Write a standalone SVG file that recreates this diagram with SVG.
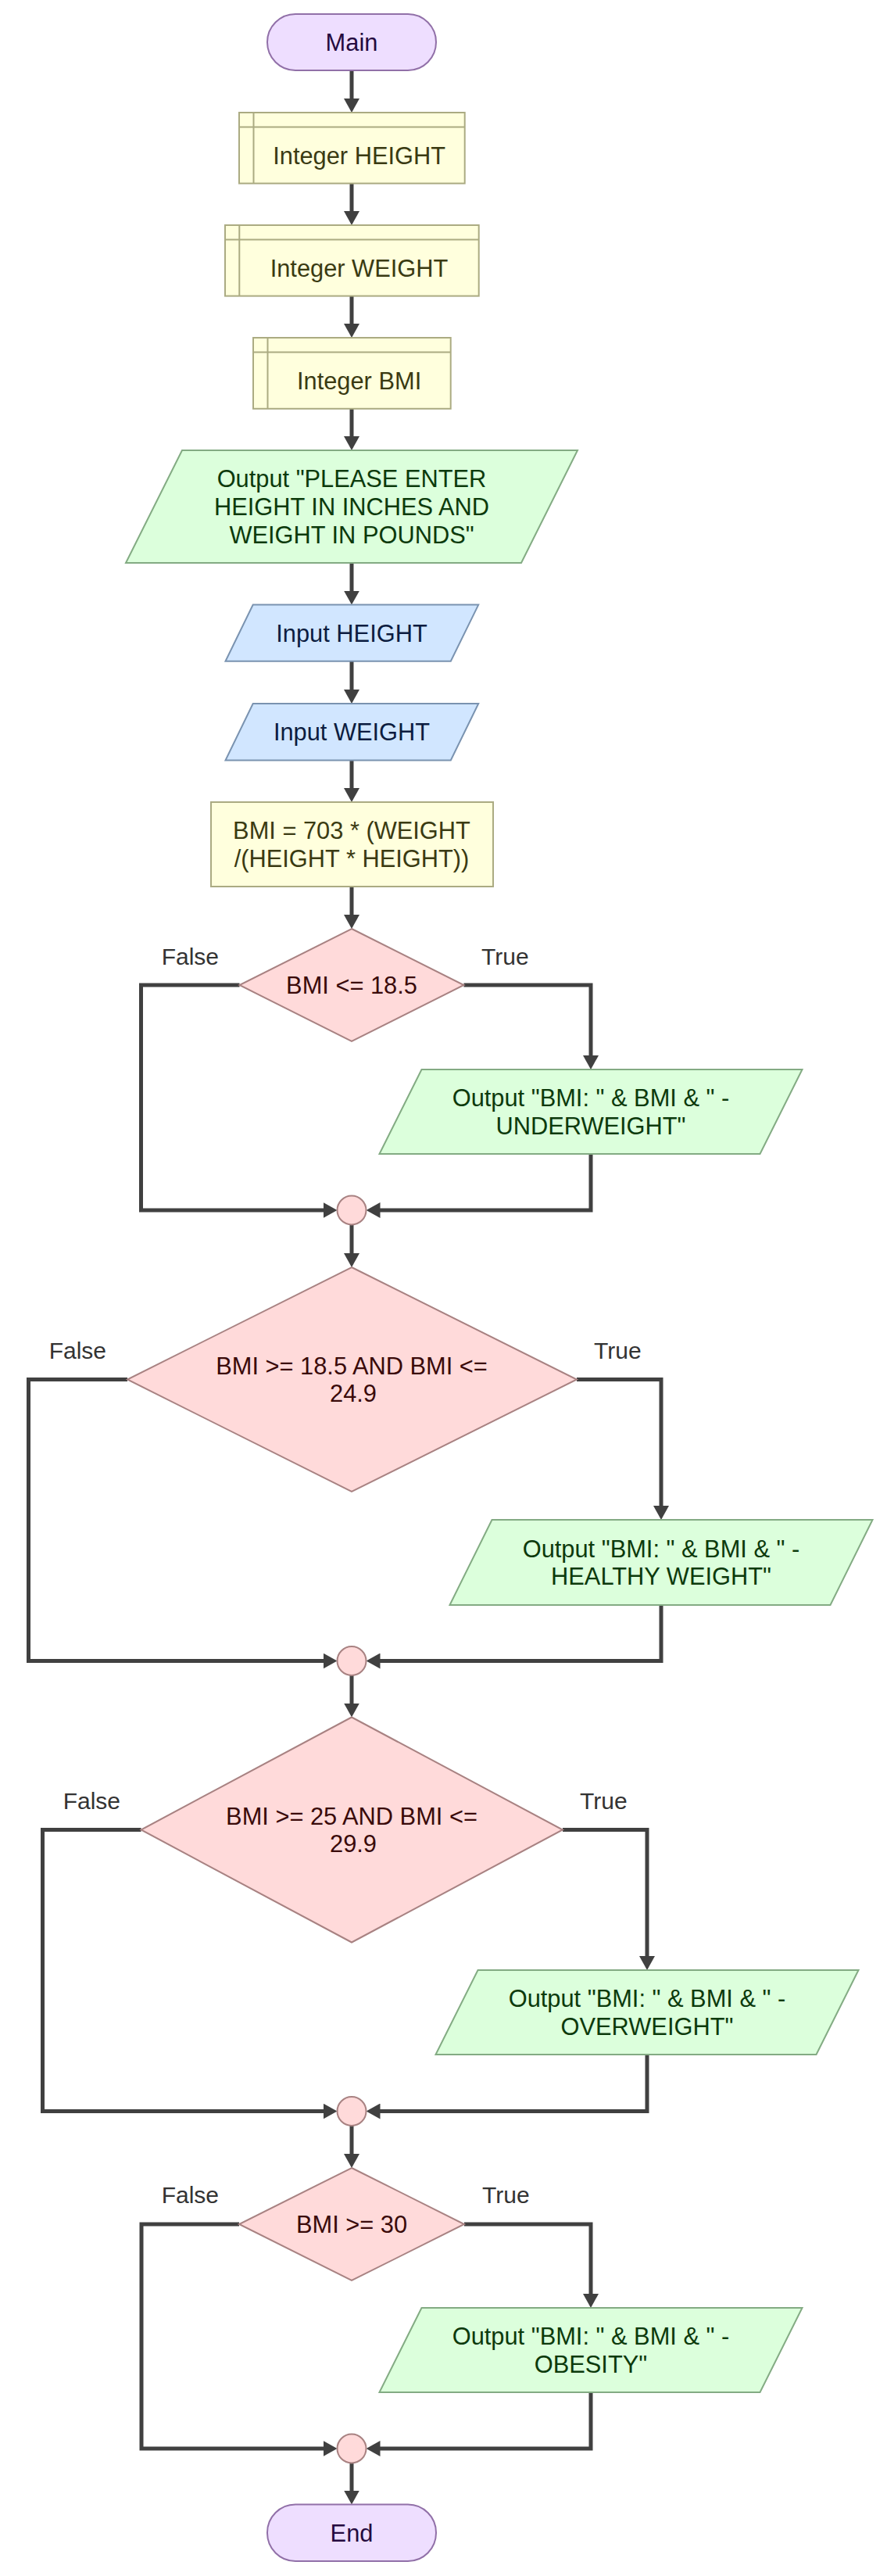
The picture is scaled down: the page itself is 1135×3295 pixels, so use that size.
<svg xmlns="http://www.w3.org/2000/svg" width="1135" height="3295" viewBox="0 0 1135 3295">
<defs>
<style>
text{font-family:"Liberation Sans",Arial,sans-serif;font-size:30.8px;text-anchor:middle}
.term{fill:#eedeff;stroke:#9170a8;stroke-width:2}
.term-t{fill:#250a40}
.decl{fill:#ffffdd;stroke:#abab82;stroke-width:2}
.decl-t{fill:#3a3a12}
.out{fill:#dcffdc;stroke:#83ab83;stroke-width:2}
.out-t{fill:#0c3a0c}
.inp{fill:#d1e6ff;stroke:#7a93b0;stroke-width:2}
.inp-t{fill:#0c1c40}
.dec{fill:#ffdada;stroke:#a88282;stroke-width:2}
.dec-t{fill:#3a0a0a}
.lbl{fill:#333333;font-size:30px}
.lblf{text-anchor:end}
.lblt{text-anchor:start}
.conn{fill:none;stroke:#404040;stroke-width:5;marker-end:url(#arr)}
</style>
<marker id="arr" markerUnits="userSpaceOnUse" markerWidth="18" markerHeight="20" refX="12" refY="10" orient="auto">
<path d="M0,0 L18,10 L0,20 Z" fill="#404040"/>
</marker>
</defs>
<rect width="1135" height="3295" fill="#ffffff"/>

<g id="connectors">
<path class="conn" d="M450,90 V138"/>
<path class="conn" d="M450,234.6 V282"/>
<path class="conn" d="M450,378.6 V426"/>
<path class="conn" d="M450,523 V570"/>
<path class="conn" d="M450,720 V767.6"/>
<path class="conn" d="M450,845.7 V894"/>
<path class="conn" d="M450,972.5 V1020"/>
<path class="conn" d="M450,1134 V1182"/>
<path class="conn" d="M593.5,1260 H756 V1362"/>
<path class="conn" d="M306.5,1260 H180.5 V1548 H425.5"/>
<path class="conn" d="M756,1476 V1548 H474.5"/>
<path class="conn" d="M450,1566.5 V1615"/>
<path class="conn" d="M738,1764.5 H846 V1938"/>
<path class="conn" d="M163,1764.5 H36.5 V2124.5 H425.5"/>
<path class="conn" d="M846,2053 V2124.5 H474.5"/>
<path class="conn" d="M450,2143 V2190.5"/>
<path class="conn" d="M720,2340.5 H828 V2514"/>
<path class="conn" d="M180.5,2340.5 H54.5 V2700.5 H425.5"/>
<path class="conn" d="M828,2628 V2700.5 H474.5"/>
<path class="conn" d="M450,2719 V2767"/>
<path class="conn" d="M594,2845 H756 V2946"/>
<path class="conn" d="M306,2845 H181 V3132 H425.5"/>
<path class="conn" d="M756,3060 V3132 H474.5"/>
<path class="conn" d="M450,3150.5 V3197.5"/>
<text class="lbl lblf" x="280" y="1234">False</text>
<text class="lbl lblt" x="616" y="1234">True</text>
<text class="lbl lblf" x="136" y="1737.5">False</text>
<text class="lbl lblt" x="760" y="1737.5">True</text>
<text class="lbl lblf" x="154" y="2314">False</text>
<text class="lbl lblt" x="742" y="2314">True</text>
<text class="lbl lblf" x="280" y="2818">False</text>
<text class="lbl lblt" x="617" y="2818">True</text>
</g>

<g id="main">
<rect class="term" x="342" y="18" width="216" height="72" rx="36" ry="36"/>
<text class="term-t" x="450" y="65">Main</text>
</g>

<g id="decl-height">
<rect class="decl" x="306" y="144" width="288.7" height="90.6"/>
<path class="decl" d="M324.5,144 V234.6 M306,162.5 H594.7"/>
<text class="decl-t" x="459.6" y="209.5">Integer HEIGHT</text>
</g>

<g id="decl-weight">
<rect class="decl" x="288" y="288" width="324.7" height="90.6"/>
<path class="decl" d="M306.3,288 V378.6 M288,306.4 H612.7"/>
<text class="decl-t" x="459.5" y="353.5">Integer WEIGHT</text>
</g>

<g id="decl-bmi">
<rect class="decl" x="324" y="432" width="252.7" height="90.8"/>
<path class="decl" d="M342.5,432 V522.8 M324,450.5 H576.7"/>
<text class="decl-t" x="459.6" y="497.6">Integer BMI</text>
</g>

<g id="output-prompt">
<polygon class="out" points="233,576 739,576 667,720 161,720"/>
<text class="out-t" x="450" y="623.3">Output "PLEASE ENTER</text>
<text class="out-t" x="450" y="659">HEIGHT IN INCHES AND</text>
<text class="out-t" x="450" y="694.7">WEIGHT IN POUNDS"</text>
</g>

<g id="input-height">
<polygon class="inp" points="323.7,773.6 612.2,773.6 576.8,845.7 288.5,845.7"/>
<text class="inp-t" x="450" y="820.6">Input HEIGHT</text>
</g>

<g id="input-weight">
<polygon class="inp" points="323.7,900 612.2,900 576.8,972.5 288.5,972.5"/>
<text class="inp-t" x="450" y="947.2">Input WEIGHT</text>
</g>

<g id="assign-bmi">
<rect class="decl" x="270" y="1026" width="361" height="108"/>
<text class="decl-t" x="450" y="1073.2">BMI = 703 * (WEIGHT</text>
<text class="decl-t" x="450" y="1108.9">/(HEIGHT * HEIGHT))</text>
</g>

<g id="if-under">
<polygon class="dec" points="450,1188 593.5,1260 450,1332 306.5,1260"/>
<text class="dec-t" x="450" y="1271">BMI &lt;= 18.5</text>
</g>

<g id="out-under">
<polygon class="out" points="539.5,1368 1026.5,1368 972.5,1476 485.5,1476"/>
<text class="out-t" x="756" y="1415.2">Output "BMI: " &amp; BMI &amp; " -</text>
<text class="out-t" x="756" y="1450.9">UNDERWEIGHT"</text>
</g>

<g id="join-1">
<circle class="dec" cx="450" cy="1548" r="18.5"/>
</g>

<g id="if-healthy">
<polygon class="dec" points="450,1621 738,1764.5 450,1908 163,1764.5"/>
<text class="dec-t" x="450" y="1757.6">BMI &gt;= 18.5 AND BMI &lt;=</text>
<text class="dec-t" x="452" y="1793.4">24.9</text>
</g>

<g id="out-healthy">
<polygon class="out" points="629.5,1944 1116.5,1944 1062.5,2053 575.5,2053"/>
<text class="out-t" x="846" y="1991.7">Output "BMI: " &amp; BMI &amp; " -</text>
<text class="out-t" x="846" y="2027.4">HEALTHY WEIGHT"</text>
</g>

<g id="join-2">
<circle class="dec" cx="450" cy="2124.5" r="18.5"/>
</g>

<g id="if-over">
<polygon class="dec" points="450,2196.5 720,2340.5 450,2484.5 180.5,2340.5"/>
<text class="dec-t" x="450" y="2333.6">BMI &gt;= 25 AND BMI &lt;=</text>
<text class="dec-t" x="452" y="2369.4">29.9</text>
</g>

<g id="out-over">
<polygon class="out" points="611.5,2520 1098.5,2520 1044.5,2628 557.5,2628"/>
<text class="out-t" x="828" y="2567.2">Output "BMI: " &amp; BMI &amp; " -</text>
<text class="out-t" x="828" y="2602.9">OVERWEIGHT"</text>
</g>

<g id="join-3">
<circle class="dec" cx="450" cy="2700.5" r="18.5"/>
</g>

<g id="if-obese">
<polygon class="dec" points="450,2773 594,2845 450,2917 306,2845"/>
<text class="dec-t" x="450" y="2856">BMI &gt;= 30</text>
</g>

<g id="out-obese">
<polygon class="out" points="539.5,2952 1026.5,2952 972.5,3060 485.5,3060"/>
<text class="out-t" x="756" y="2999.2">Output "BMI: " &amp; BMI &amp; " -</text>
<text class="out-t" x="756" y="3034.9">OBESITY"</text>
</g>

<g id="join-4">
<circle class="dec" cx="450" cy="3132" r="18.5"/>
</g>

<g id="end">
<rect class="term" x="342" y="3203.5" width="216" height="72.5" rx="36" ry="36"/>
<text class="term-t" x="450" y="3251">End</text>
</g>
</svg>
